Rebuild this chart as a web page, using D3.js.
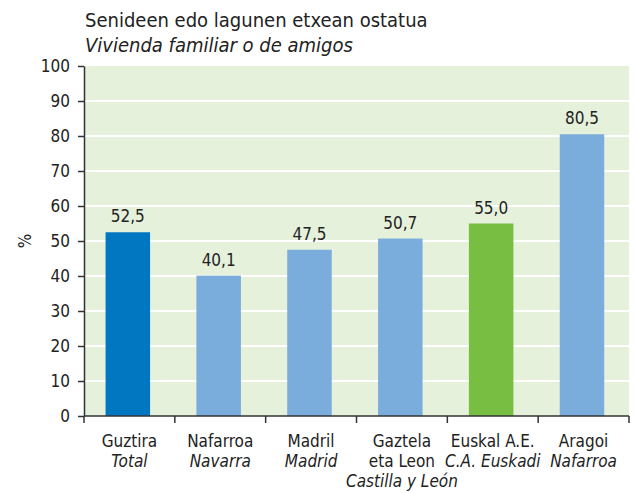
<!DOCTYPE html>
<html>
<head>
<meta charset="utf-8">
<script src="https://cdn.jsdelivr.net/npm/d3@7"></script>
<style>
  body { margin: 0; background: #fff; }
  svg text { font-family: "Liberation Sans Narrow", "DejaVu Sans Condensed", "Roboto", sans-serif; fill: #222; }
</style>
</head>
<body>
<div class="chart"></div>
<script>
// data
const labelsEu = ["Guztira", "Nafarroa", "Madril", "Gaztela\neta Leon", "Euskal A.E.", "Aragoi"];
const labelsEs = ["Total", "Navarra", "Madrid", "Castilla y León", "C.A. Euskadi", "Nafarroa"];
const values = [52.5, 40.1, 47.5, 50.7, 55.0, 80.5];
const barColors = ["#0077c0", "#7aacdc", "#7aacdc", "#7aacdc", "#78be43", "#7aacdc"];
const yTicks = [0, 10, 20, 30, 40, 50, 60, 70, 80, 90, 100];

const width = 635, height = 493;
const svg = d3.select(".chart").append("svg")
              .attr("width", width)
              .attr("height", height);

const x = d3.scaleBand()
            .domain(d3.range(values.length))
            .range([84, 629])
            .padding(0);

const y = d3.scaleLinear()
            .domain([0, 100])
            .range([416, 66]);

// plot background
svg.append("rect")
   .attr("x", 84).attr("y", y(100))
   .attr("width", 629 - 84).attr("height", y(0) - y(100))
   .attr("fill", "#e6f1dc");

// grid lines
svg.selectAll(".grid")
   .data(yTicks.filter(d => d > 0 && d < 100))
   .enter().append("line")
   .attr("x1", 84).attr("x2", 629)
   .attr("y1", d => y(d)).attr("y2", d => y(d))
   .attr("stroke", "#fff")
   .attr("stroke-width", 2);

// bars (sit slightly left of band centre, as in the original)
const barW = x.bandwidth() * 0.49;
const shift = -1.6;
svg.selectAll(".bar")
   .data(values).enter()
   .append("rect")
   .attr("x", (d, i) => x(i) + (x.bandwidth() - barW) / 2 + shift)
   .attr("y", d => y(d))
   .attr("width", barW)
   .attr("height", d => y(0) - y(d))
   .attr("fill", (d, i) => barColors[i]);

// value labels
const fmt = d => d.toFixed(1).replace(".", ",");
svg.selectAll(".val")
   .data(values).enter()
   .append("text")
   .attr("x", (d, i) => x(i) + x.bandwidth() / 2 + shift)
   .attr("y", d => y(d) - 10)
   .attr("text-anchor", "middle")
   .attr("font-size", 17)
   .text(fmt);

// y axis
const yAxis = svg.append("g")
   .attr("transform", "translate(84,0)")
   .call(d3.axisLeft(y).tickValues(yTicks).tickSize(6).tickSizeOuter(0).tickPadding(8));
yAxis.select(".domain").attr("stroke", "#333").attr("stroke-width", 1.5);
yAxis.selectAll(".tick line").attr("stroke", "#333").attr("stroke-width", 1.5);
yAxis.selectAll(".tick text").attr("font-size", 17).attr("fill", "#222")
     .attr("font-family", "Liberation Sans Narrow, DejaVu Sans Condensed, sans-serif");

// x axis with ticks at band edges
const xEdges = d3.range(values.length + 1).map(i => 84 + i * x.step());
svg.append("line")
   .attr("x1", 84).attr("x2", 629)
   .attr("y1", y(0)).attr("y2", y(0))
   .attr("stroke", "#333").attr("stroke-width", 1.5);
svg.selectAll(".xtick")
   .data(xEdges).enter()
   .append("line")
   .attr("x1", d => d).attr("x2", d => d)
   .attr("y1", y(0)).attr("y2", y(0) + 7)
   .attr("stroke", "#333").attr("stroke-width", 1.5);

// x labels
labelsEu.forEach((lab, i) => {
  const cx = x(i) + x.bandwidth() / 2;
  const lines = lab.split("\n");
  const t = svg.append("text")
               .attr("text-anchor", "middle")
               .attr("font-size", 17);
  lines.forEach((ln, j) => {
    t.append("tspan").attr("x", cx).attr("y", 447 + j * 20).text(ln);
  });
  t.append("tspan").attr("x", cx).attr("y", 447 + lines.length * 20)
   .attr("font-style", "italic").text(labelsEs[i]);
});

// y label
svg.append("text")
   .attr("transform", "translate(31," + y(50) + ") rotate(-90)")
   .attr("text-anchor", "middle")
   .attr("font-size", 17)
   .text("%");

// title
svg.append("text")
   .attr("x", 85).attr("y", 27)
   .attr("font-size", 20)
   .text("Senideen edo lagunen etxean ostatua");
svg.append("text")
   .attr("x", 85).attr("y", 52)
   .attr("font-size", 20)
   .attr("font-style", "italic")
   .text("Vivienda familiar o de amigos");
</script>
</body>
</html>
